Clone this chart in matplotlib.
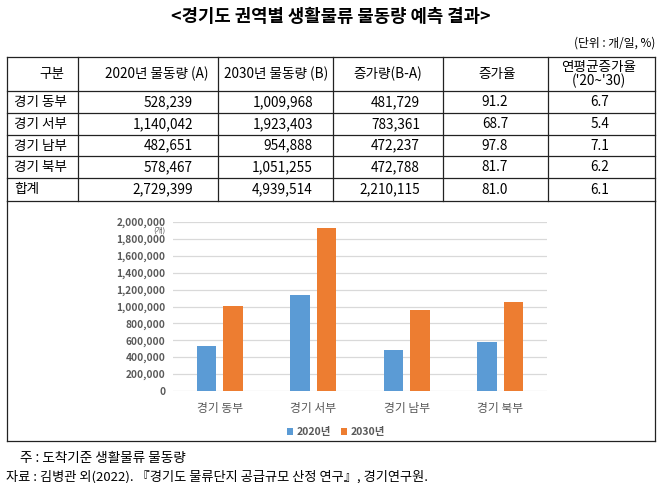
import matplotlib.pyplot as plt
from matplotlib.lines import Line2D

plt.rcParams['font.family'] = ['Noto Sans CJK KR', 'DejaVu Sans']

# data
regions = ['경기 동부', '경기 서부', '경기 남부', '경기 북부']
vol_2020 = [528239, 1140042, 482651, 578467]
vol_2030 = [1009968, 1923403, 954888, 1051255]
increase = [481729, 783361, 472237, 472788]
inc_rate = [91.2, 68.7, 97.8, 81.7]
cagr = [6.7, 5.4, 7.1, 6.2]
total_row = ['합계', 2729399, 4939514, 2210115, 81.0, 6.1]
headers = ['구분', '2020년 물동량 (A)', '2030년 물동량 (B)', '증가량(B-A)', '증가율', "연평균증가율\n('20~'30)"]
yticks = [0, 200000, 400000, 600000, 800000, 1000000, 1200000, 1400000, 1600000, 1800000, 2000000]
series_names = ['2020년', '2030년']

W, H = 658, 483
fig = plt.figure(figsize=(W / 100, H / 100), dpi=100)


def fx(x):
    return x / W


def fy(y):
    return 1 - y / H


def hline(x0, x1, y, color='#222222', lw=0.9):
    fig.add_artist(Line2D([fx(x0), fx(x1)], [fy(y), fy(y)], color=color, lw=lw))


def vline(x, y0, y1, color='#222222', lw=0.9):
    fig.add_artist(Line2D([fx(x), fx(x)], [fy(y0), fy(y1)], color=color, lw=lw))


# title and unit
fig.text(fx(331), fy(17), '<경기도 권역별 생활물류 물동량 예측 결과>', ha='center', va='center',
         fontsize=12.8, fontweight='bold')
fig.text(fx(655), fy(43), '(단위 : 개/일, %)', ha='right', va='center', fontsize=8.5)

# table grid
col_x = [7, 78, 218, 333, 443, 548, 655]
row_y = [57, 91, 113, 135, 156, 178, 201]
for y in row_y:
    hline(col_x[0], col_x[-1], y)
for x in col_x:
    vline(x, row_y[0], row_y[-1])
# chart box below table
vline(col_x[0], row_y[-1], 441)
vline(col_x[-1], row_y[-1], 441)
hline(col_x[0], col_x[-1], 441)

# header
head_cx = [52, 157, 276, 388, 497, 599]
for cx, h in zip(head_cx, headers):
    fig.text(fx(cx), fy(74), h, ha='center', va='center', fontsize=9.8, linespacing=0.9)

# body rows
rows = []
for i in range(len(regions)):
    rows.append([regions[i], vol_2020[i], vol_2030[i], increase[i], inc_rate[i], cagr[i]])
rows.append(total_row)
for r, row in enumerate(rows):
    yc = (row_y[r + 1] + row_y[r + 2]) / 2
    fig.text(fx(14), fy(yc), row[0], ha='left', va='center', fontsize=9.8)
    fig.text(fx(193), fy(yc), f'{row[1]:,}', ha='right', va='center', fontsize=9.8)
    fig.text(fx(313), fy(yc), f'{row[2]:,}', ha='right', va='center', fontsize=9.8)
    fig.text(fx(420), fy(yc), f'{row[3]:,}', ha='right', va='center', fontsize=9.8)
    fig.text(fx(495), fy(yc), f'{row[4]:.1f}', ha='center', va='center', fontsize=9.8)
    fig.text(fx(600), fy(yc), f'{row[5]:.1f}', ha='center', va='center', fontsize=9.8)

# bar chart
ax = fig.add_axes([fx(173), fy(391), (547 - 173) / W, (391 - 222) / H])
x = list(range(len(regions)))
bw = 0.21
off = 0.14
ax.bar([i - off for i in x], vol_2020, width=bw, color='#5B9BD5', label=series_names[0], zorder=3)
ax.bar([i + off for i in x], vol_2030, width=bw, color='#ED7D31', label=series_names[1], zorder=3)
ax.set_ylim(0, 2000000)
ax.set_xlim(-0.5, 3.5)
ax.set_yticks(yticks)
ax.set_yticklabels([f'{v:,}' for v in yticks])
ax.set_xticks(x)
ax.set_xticklabels(regions)
ax.grid(axis='y', color='#d9d9d9', lw=0.9, zorder=0)
for s in ax.spines.values():
    s.set_visible(False)
ax.tick_params(length=0, labelcolor='#595959')
ax.tick_params(axis='y', labelsize=7.3, pad=5.5)
ax.tick_params(axis='x', labelsize=8.5, pad=8)
for lab in ax.get_yticklabels():
    lab.set_fontweight('bold')
fig.text(fx(166), fy(231), '(개)', ha='right', va='center', fontsize=5.5, color='#595959')

leg = fig.legend(loc='center', bbox_to_anchor=(fx(336), fy(432)), ncol=2, frameon=False,
                 fontsize=7.5, handlelength=0.6, handleheight=0.6, handletextpad=0.3,
                 columnspacing=1.0)
for t in leg.get_texts():
    t.set_color('#595959')
    t.set_fontweight('bold')

# notes
fig.text(fx(20), fy(458), '주 : 도착기준 생활물류 물동량', ha='left', va='center', fontsize=9.8)
fig.text(fx(6), fy(477), '자료 : 김병관 외(2022). 『경기도 물류단지 공급규모 산정 연구』, 경기연구원.',
         ha='left', va='center', fontsize=9.5)

fig.savefig('out.png', dpi=100)
